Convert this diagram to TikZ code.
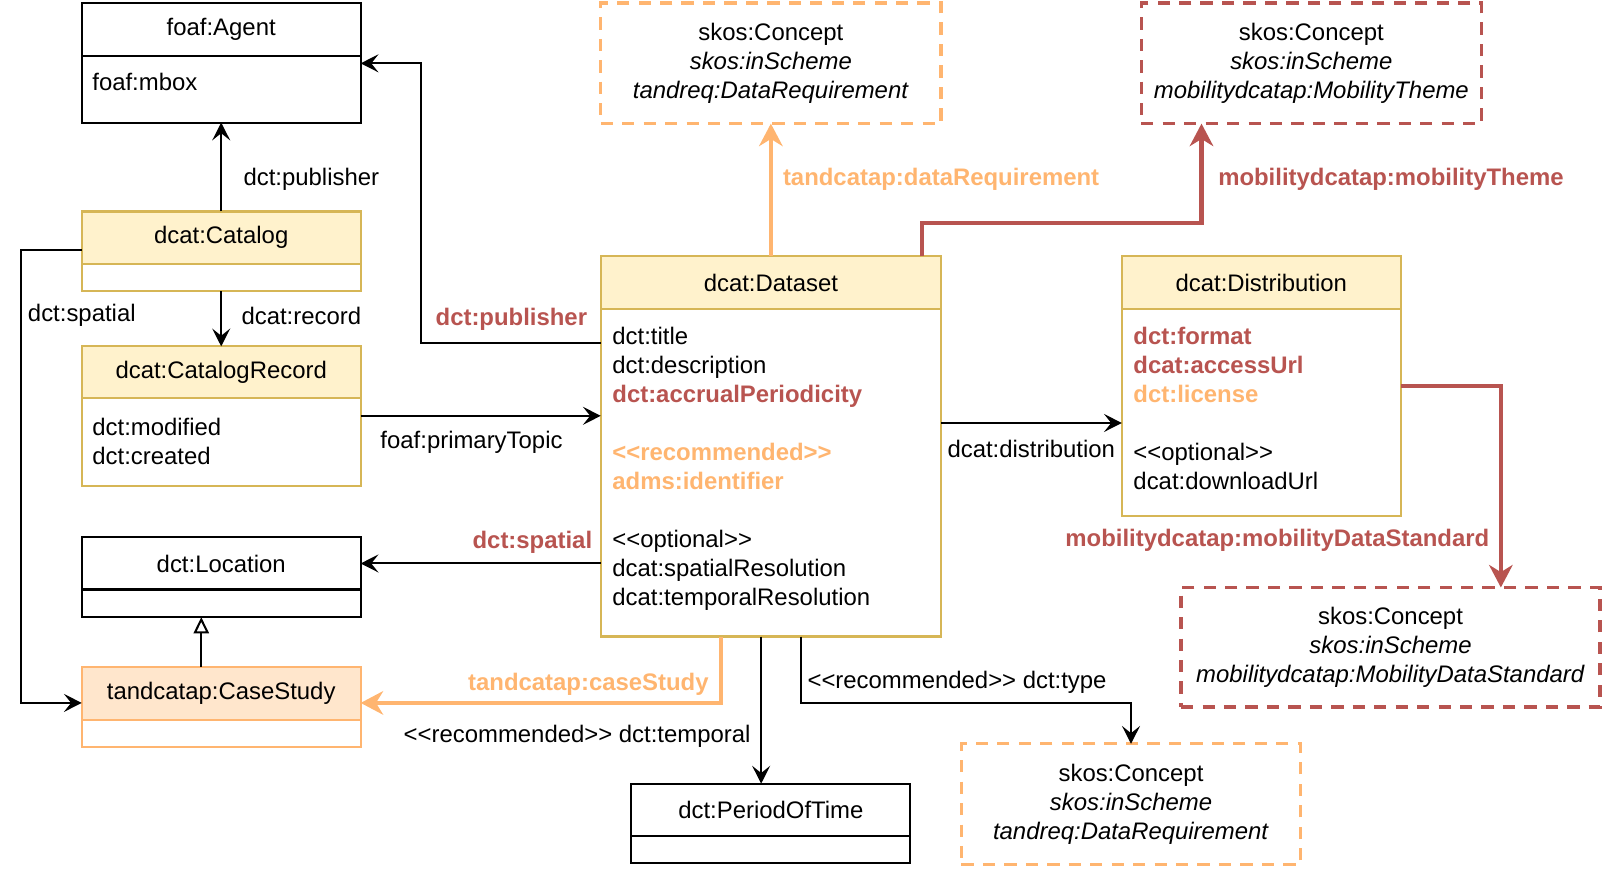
\documentclass[tikz,border=0pt]{standalone}
\usepackage{fontspec}
\setmainfont{Liberation Sans}
\usetikzlibrary{arrows.meta}
\definecolor{hdrfill}{HTML}{FFF2CC}
\definecolor{hdrline}{HTML}{D6B656}
\definecolor{recline}{HTML}{FFB570}
\definecolor{recfill}{HTML}{FFE6CC}
\definecolor{mandline}{HTML}{B85450}
\newcommand{\umlfont}{\fontsize{11.7}{14.2}\selectfont}
\tikzset{
  box/.style={draw, line width=1pt, inner sep=0pt, outer sep=0pt, minimum width=136.5pt, minimum height=25.5pt},
  yellowbox/.style={box, draw=hdrline, fill=hdrfill},
  orangebox/.style={box, draw=recline},
  attr/.style={anchor=north west, align=left, inner sep=0pt},
  concept/.style={draw, line width=1.6pt, dash pattern=on 6pt off 4.5pt, inner sep=0pt, outer sep=0pt, align=center},
  lbl/.style={inner sep=0pt},
  arr/.style={line width=1pt, -{Stealth[length=8.7pt,width=8.8pt,inset=3.5pt]}},
  bigarr/.style={line width=2pt, -{Stealth[length=11pt,width=11.5pt,inset=3.5pt]}},
  mand/.style={text=mandline, font=\umlfont\bfseries},
  recm/.style={text=recline, font=\umlfont\bfseries},
}
\begin{document}
\begin{tikzpicture}[x=0.5pt, y=-0.5pt, font=\umlfont]
\useasboundingbox (0,0) rectangle (1568,849.6);

% classes
\node[box, minimum height=26pt] (agent) at (216.5,29) {foaf:Agent};
\node[box, minimum height=32.5pt] (agent-b) at (216.5,87.5) {};
\node[attr] (agent-t) at (90,71.5) {foaf:mbox};

\node[yellowbox] (cat) at (216.5,232.5) {dcat:Catalog};
\node[yellowbox, fill=none, minimum height=13.5pt] (cat-b) at (216.5,271.5) {};

\node[yellowbox] (rec) at (216.5,364.5) {dcat:CatalogRecord};
\node[yellowbox, fill=none, minimum height=43pt] (rec-b) at (216.5,433) {};
\node[attr] (rec-t) at (90,408.5) {dct:modified\\dct:created};

\node[box] (loc) at (216.5,551.5) {dct:Location};
\node[box, minimum height=13.5pt] (loc-b) at (216.5,590.5) {};

\node[orangebox, fill=recfill, minimum height=26pt] (case) at (216.5,679) {tandcatap:CaseStudy};
\node[orangebox, minimum height=13pt] (case-b) at (216.5,718) {};

\node[yellowbox, minimum width=166.5pt] (ds) at (754.5,276.5) {dcat:Dataset};
\node[yellowbox, fill=none, minimum width=166.5pt, minimum height=160.5pt] (ds-b) at (754.5,462.5) {};
\node[attr] (ds-t) at (599,319.5) {dct:title\\
  dct:description\\
  \textcolor{mandline}{\bfseries dct:accrualPeriodicity}\\[14.2pt]
  \textcolor{recline}{\bfseries <{}<recommended>{}>}\\
  \textcolor{recline}{\bfseries adms:identifier}\\[14.2pt]
  <{}<optional>{}>\\
  dcat:spatialResolution\\
  dcat:temporalResolution};

\node[yellowbox] (dist) at (1234.5,276.5) {dcat:Distribution};
\node[yellowbox, fill=none, minimum height=101.5pt] (dist-b) at (1234.5,403.5) {};
\node[attr] (dist-t) at (1109,320) {\textcolor{mandline}{\bfseries dct:format}\\
  \textcolor{mandline}{\bfseries dcat:accessUrl}\\
  \textcolor{recline}{\bfseries dct:license}\\[14.2pt]
  <{}<optional>{}>\\
  dcat:downloadUrl};

\node[box] (per) at (754.5,792.5) {dct:PeriodOfTime};
\node[box, minimum height=13.5pt] (per-b) at (754.5,831.5) {};

% concept schemes
\node[concept, draw=recline, minimum width=166.5pt, minimum height=59pt] (req1) at (754.5,62)
  {skos:Concept\\\textit{skos:inScheme}\\\textit{tandreq:DataRequirement}};
\node[concept, draw=mandline, minimum width=166.5pt, minimum height=59pt] (theme) at (1283.5,62)
  {skos:Concept\\\textit{skos:inScheme}\\\textit{mobilitydcatap:MobilityTheme}};
\node[concept, draw=mandline, minimum width=205pt, minimum height=58.5pt] (std) at (1361,633.5)
  {skos:Concept\\\textit{skos:inScheme}\\\textit{mobilitydcatap:MobilityDataStandard}};
\node[concept, draw=recline, minimum width=166pt, minimum height=59pt] (req2) at (1107,787)
  {skos:Concept\\\textit{skos:inScheme}\\\textit{tandreq:DataRequirement}};

% connectors
\draw[arr] (cat.north) -- (agent-b.south);
\draw[arr] (ds-b.west |- 0,336) -| (412,62) -- (agent-b.east |- 0,62);
\draw[arr] (cat-b.south) -- (rec.north);
\draw[arr] (cat.west |- 0,245) -| (21,688) -- (case.west |- 0,688);
\draw[arr] (rec-b.east |- 0,407) -- (ds-b.west |- 0,407);
\draw[arr] (ds-b.east |- 0,414) -- (dist-b.west |- 0,414);
\draw[arr] (ds-b.west |- loc.east) -- (loc.east);
\draw[bigarr, draw=recline, -{Stealth[length=11pt,width=11.5pt,inset=3.5pt,fill=recline]}] (ds-b.south -| 706,0) |- (case.east |- 0,688);
\draw[line width=1pt, -{Triangle[open,length=8pt,width=7.5pt,fill=white]}] (case.north -| 197,0) -- (loc-b.south -| 197,0);
\draw[arr] (ds-b.south -| 745,0) -- (per.north -| 745,0);
\draw[arr] (ds-b.south -| 784,0) -- (784,688) -| (req2.north);
\draw[bigarr, draw=recline] (ds.north) -- (req1.south);
\draw[bigarr, draw=mandline] (ds.north -| 902,0) -- (902,218) -| (theme.south -| 1176,0);
\draw[bigarr, draw=mandline] (dist-b.east |- 0,378) -| (std.north -| 1469,0);

% labels
\node[lbl, anchor=west] (l-pub1) at (238,176) {dct:publisher};
\node[lbl, mand, anchor=east] (l-pub2) at (575,313) {dct:publisher};
\node[lbl, anchor=west] (l-rec) at (236,309) {dcat:record};
\node[lbl, anchor=west] (l-sp1) at (27,309) {dct:spatial};
\node[lbl, anchor=west] (l-topic) at (372,433) {foaf:primaryTopic};
\node[lbl, anchor=west] (l-dist) at (927,439) {dcat:distribution};
\node[lbl, mand, anchor=east] (l-sp2) at (580,531) {dct:spatial};
\node[lbl, recm, anchor=east] (l-case) at (694,670) {tandcatap:caseStudy};
\node[lbl, anchor=east] (l-temp) at (735,721) {<{}<recommended>{}> dct:temporal};
\node[lbl, anchor=west] (l-type) at (790,668) {<{}<recommended>{}> dct:type};
\node[lbl, recm, anchor=west] (l-req) at (766,176) {tandcatap:dataRequirement};
\node[lbl, mand, anchor=west] (l-theme) at (1192,176) {mobilitydcatap:mobilityTheme};
\node[lbl, mand, anchor=east] (l-std) at (1458,529) {mobilitydcatap:mobilityDataStandard};
\end{tikzpicture}
\end{document}
